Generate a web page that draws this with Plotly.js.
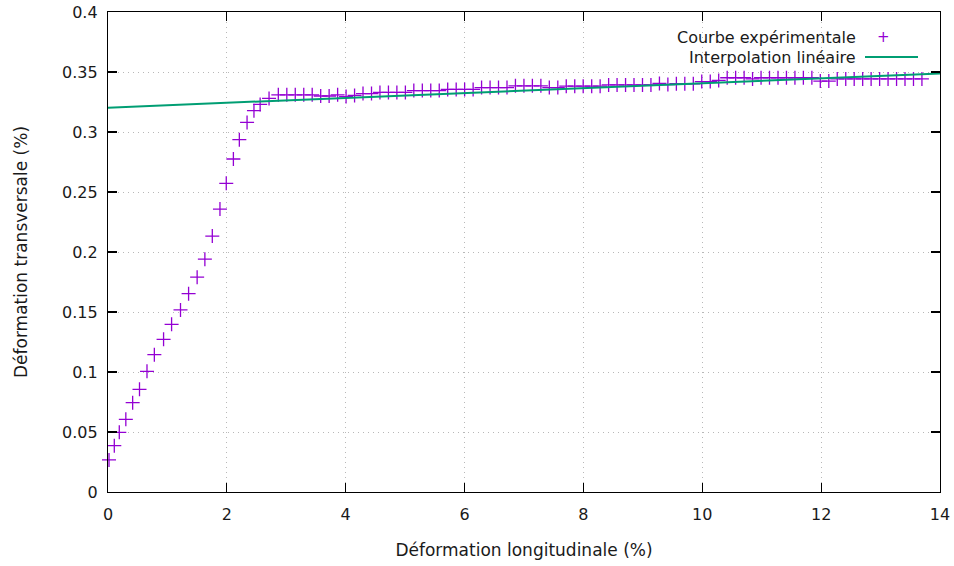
<!DOCTYPE html>
<html>
<head>
<meta charset="utf-8">
<script src="https://cdn.plot.ly/plotly-3.0.1.min.js"></script>
<style>html,body{margin:0;padding:0;background:#fff;}#chart{width:954px;height:566px;}</style>
</head>
<body>
<div id="chart"></div>
<script>
// Experimental curve: rising part
const rampX = [0.017, 0.106, 0.19, 0.30, 0.415, 0.53, 0.656, 0.78, 0.935, 1.07, 1.22, 1.356, 1.50, 1.63, 1.755, 1.884, 1.99, 2.11, 2.21, 2.34, 2.456, 2.56, 2.71];
const rampY = [0.0267, 0.0386, 0.0497, 0.0606, 0.0744, 0.0856, 0.1006, 0.1144, 0.1272, 0.1397, 0.1517, 0.1653, 0.179, 0.194, 0.2133, 0.2358, 0.2572, 0.2775, 0.2936, 0.308, 0.3178, 0.323, 0.328];
// Experimental curve: plateau
const plateauX = [2.866, 3.009, 3.151, 3.294, 3.436, 3.579, 3.721, 3.864, 4.006, 4.149, 4.291, 4.434, 4.576, 4.719, 4.861, 5.004, 5.146, 5.289, 5.431, 5.574, 5.716, 5.859, 6.001, 6.144, 6.286, 6.429, 6.571, 6.714, 6.856, 6.999, 7.141, 7.284, 7.426, 7.569, 7.711, 7.854, 7.996, 8.139, 8.281, 8.424, 8.566, 8.709, 8.851, 8.994, 9.136, 9.279, 9.421, 9.564, 9.706, 9.849, 9.991, 10.134, 10.276, 10.419, 10.561, 10.704, 10.846, 10.989, 11.131, 11.274, 11.416, 11.559, 11.701, 11.844, 11.986, 12.129, 12.271, 12.414, 12.556, 12.699, 12.841, 12.984, 13.126, 13.269, 13.411, 13.554, 13.696];
const plateauY = [0.331, 0.331, 0.331, 0.331, 0.331, 0.330, 0.330, 0.331, 0.3295, 0.3305, 0.332, 0.332, 0.333, 0.333, 0.333, 0.333, 0.3345, 0.3345, 0.3345, 0.3345, 0.3355, 0.3355, 0.3355, 0.3355, 0.337, 0.337, 0.337, 0.337, 0.3385, 0.3385, 0.3385, 0.3385, 0.337, 0.337, 0.3382, 0.3382, 0.3382, 0.3382, 0.3382, 0.3392, 0.3392, 0.3392, 0.3392, 0.3392, 0.3392, 0.3405, 0.3395, 0.3402, 0.3402, 0.3402, 0.342, 0.342, 0.343, 0.3452, 0.3452, 0.3452, 0.3442, 0.3452, 0.3452, 0.3452, 0.3452, 0.3452, 0.3452, 0.3452, 0.3424, 0.3424, 0.3442, 0.3442, 0.3442, 0.3442, 0.3442, 0.3442, 0.3442, 0.3442, 0.3442, 0.3442, 0.3442];
// Linear interpolation (endpoints)
const interpX = [0, 14];
const interpY = [0.3203, 0.3487];

const xTicks = [0, 2, 4, 6, 8, 10, 12, 14];
const yTicks = [0, 0.05, 0.1, 0.15, 0.2, 0.25, 0.3, 0.35, 0.4];
const yTickText = ['0', '0.05', '0.1', '0.15', '0.2', '0.25', '0.3', '0.35', '0.4'];

const seriesNames = ['Courbe expérimentale', 'Interpolation linéaire'];
const xTitle = 'Déformation longitudinale (%)';
const yTitle = 'Déformation transversale (%)';

const purple = '#9400D3';
const green = '#009E73';
const FONT = '"DejaVu Sans", sans-serif';
const TXT = '#1a1a1a';

const traces = [
  {
    x: rampX.concat(plateauX), y: rampY.concat(plateauY),
    type: 'scatter', mode: 'markers', name: seriesNames[0],
    marker: {symbol: 'cross-thin-open', size: 10, color: purple, line: {color: purple, width: 1.3}},
    cliponaxis: false, showlegend: false
  },
  {
    x: interpX, y: interpY, type: 'scatter', mode: 'lines', name: seriesNames[1],
    line: {color: green, width: 2}, showlegend: false
  }
];

const axisCommon = {
  showline: true, mirror: 'allticks', linecolor: '#000', linewidth: 1.2,
  ticks: 'inside', ticklen: 9, tickwidth: 1.2, tickcolor: '#000',
  showgrid: true, gridcolor: '#b8b8b8', griddash: '1px,4px', gridwidth: 1,
  zeroline: false, tickfont: {family: FONT, size: 16, color: TXT}
};

const layout = {
  width: 954, height: 566,
  margin: {l: 108, r: 14, t: 12, b: 74},
  paper_bgcolor: '#fff', plot_bgcolor: '#fff',
  font: {family: FONT, size: 16, color: TXT},
  xaxis: Object.assign({}, axisCommon, {
    range: [0, 14], tickvals: xTicks, ticktext: xTicks.map(String),
    ticklabelstandoff: 8,
    title: {text: xTitle, font: {family: FONT, size: 17, color: TXT}, standoff: 20}
  }),
  yaxis: Object.assign({}, axisCommon, {
    range: [0, 0.4], tickvals: yTicks, ticktext: yTickText,
    ticklabelstandoff: 6,
    title: {text: yTitle, font: {family: FONT, size: 17, color: TXT}, standoff: 30}
  }),
  annotations: [
    {xref: 'paper', yref: 'paper', x: (858 - 108) / 832, y: (492 - 37) / 480, xanchor: 'right', yanchor: 'middle',
     text: seriesNames[0], showarrow: false, font: {family: FONT, size: 16, color: TXT}},
    {xref: 'paper', yref: 'paper', x: (858 - 108) / 832, y: (492 - 57) / 480, xanchor: 'right', yanchor: 'middle',
     text: seriesNames[1], showarrow: false, font: {family: FONT, size: 16, color: TXT}},
    {xref: 'paper', yref: 'paper', x: (883 - 108) / 832, y: (492 - 37) / 480, xanchor: 'center', yanchor: 'middle',
     text: '+', showarrow: false, font: {family: 'DejaVu Sans', size: 15, color: purple}}
  ],
  shapes: [
    {type: 'line', xref: 'paper', yref: 'paper', x0: (865 - 108) / 832, x1: (918 - 108) / 832,
     y0: (492 - 57) / 480, y1: (492 - 57) / 480, line: {color: green, width: 2}}
  ],
  showlegend: false
};

Plotly.newPlot('chart', traces, layout, {displayModeBar: false, staticPlot: true});
</script>
</body>
</html>
